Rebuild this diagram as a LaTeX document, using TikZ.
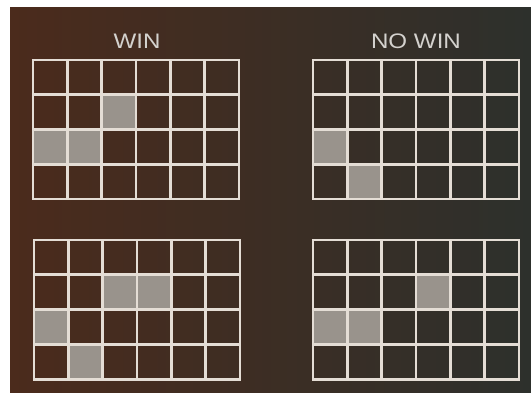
\documentclass[tikz,border=0pt]{standalone}
\usepackage{fontspec}
\setmainfont{Liberation Sans}
\newfontfamily\titlefont[FakeStretch=1.15]{Liberation Sans}
\usepackage{xcolor}
\definecolor{bgleft}{HTML}{4B2B1C}
\definecolor{bgmid}{HTML}{3B3329}
\definecolor{bgright}{HTML}{2D302C}
\definecolor{lineclr}{HTML}{E4DDD5}
\definecolor{hitclr}{HTML}{99938C}
\definecolor{titleclr}{HTML}{D4D2CE}

\begin{document}
\begin{tikzpicture}[x=1pt, y=-1pt,
    gridline/.style={line width=2.6pt, lineclr, line cap=rect},
    hit/.style={fill=hitclr},
    title/.style={titleclr, anchor=base, font=\titlefont\fontsize{21}{21}\selectfont}]
    \useasboundingbox (0,0) rectangle (531,393);
    % Background
    \fill[white] (0,0) rectangle (531,393);
    \shade[left color=bgleft, middle color=bgmid, right color=bgright] (10,8) rectangle (531,393);

    % Titles
    \node[title] (win) at (137,49) {WIN};
    \node[title] (nowin) at (416,49) {NO WIN};

    % Win, top
    \foreach \c/\r in {3/2, 1/3, 2/3}
        \fill[hit] ({33+(\c-1)*34.33},{60+(\r-1)*34.8}) rectangle +(34.33,34.8);
    % No win, top
    \foreach \c/\r in {1/3, 2/4}
        \fill[hit] ({313+(\c-1)*34.33},{60+(\r-1)*34.8}) rectangle +(34.33,34.8);
    % Win, bottom
    \foreach \c/\r in {3/2, 4/2, 1/3, 2/4}
        \fill[hit] ({34+(\c-1)*34.33},{240+(\r-1)*34.8}) rectangle +(34.33,34.8);
    % No win, bottom
    \foreach \c/\r in {4/2, 1/3, 2/3}
        \fill[hit] ({313+(\c-1)*34.33},{240+(\r-1)*34.8}) rectangle +(34.33,34.8);

    % Grid lines
    \foreach \ox/\oy in {33/60, 313/60, 34/240, 313/240} {
        \foreach \i in {0,...,6}
            \draw[gridline] ({\ox+\i*34.33},\oy) -- ++(0,139.2);
        \foreach \j in {0,...,4}
            \draw[gridline] (\ox,{\oy+\j*34.8}) -- ++(206,0);
    }
\end{tikzpicture}
\end{document}
